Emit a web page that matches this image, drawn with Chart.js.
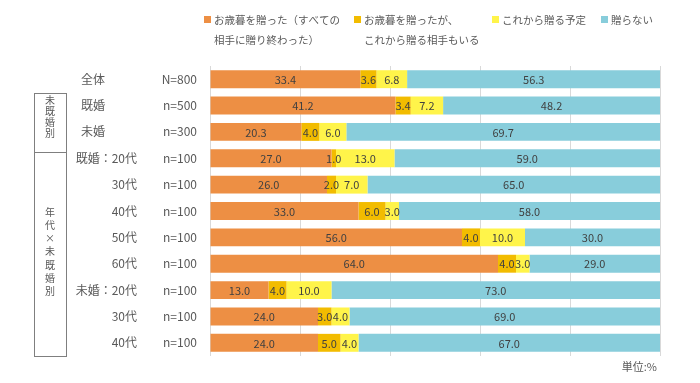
<!DOCTYPE html>
<html><head><meta charset="utf-8">
<script src="https://cdn.jsdelivr.net/npm/chart.js@4/dist/chart.umd.min.js"></script>
<style>html,body{margin:0;padding:0;background:#fff;}#wrap{width:700px;height:383px;position:relative;}</style>
</head><body><div id="wrap"><canvas id="c" width="700" height="383"></canvas></div>
<script>
const groupLabels = ['全体','既婚','未婚','既婚：20代','30代','40代','50代','60代','未婚：20代','30代','40代'];
const sampleLabels = ['N=800','n=500','n=300','n=100','n=100','n=100','n=100','n=100','n=100','n=100','n=100'];
const seriesNames = [['お歳暮を贈った（すべての','相手に贈り終わった）'],['お歳暮を贈ったが、','これから贈る相手もいる'],['これから贈る予定'],['贈らない']];
const sentAll = [33.4,41.2,20.3,27.0,26.0,33.0,56.0,64.0,13.0,24.0,24.0];
const sentSome = [3.6,3.4,4.0,1.0,2.0,6.0,4.0,4.0,4.0,3.0,5.0];
const planned = [6.8,7.2,6.0,13.0,7.0,3.0,10.0,3.0,10.0,4.0,4.0];
const notSend = [56.3,48.2,69.7,59.0,65.0,58.0,30.0,29.0,73.0,69.0,67.0];
const boxLabels = ['未既婚別','年代×未既婚別'];
const unitLabel = '単位:%';

const colors = ['#ED8F44','#F2BC00','#FFF44A','#88CDDB'];
const FONT = '"Noto Sans CJK JP","Noto Sans",sans-serif';
const TXT = '#595959';

const extras = {
  id:'extras',
  afterDatasetsDraw(chart){
    const ctx = chart.ctx;
    ctx.save();
    ctx.font = '11px ' + FONT;
    ctx.fillStyle = '#404040';
    ctx.textAlign = 'center';
    ctx.textBaseline = 'middle';
    chart.data.datasets.forEach((ds,di)=>{
      const meta = chart.getDatasetMeta(di);
      meta.data.forEach((el,i)=>{
        const v = ds.data[i];
        const x = (el.x + el.base)/2;
        ctx.fillText(v.toFixed(1), x, el.y+0.5);
      });
    });
    ctx.restore();
  },
  afterDraw(chart){
    const ctx = chart.ctx;
    const ys = chart.scales.y;
    ctx.save();
    ctx.font = '12px ' + FONT;
    ctx.fillStyle = TXT;
    ctx.textBaseline = 'middle';
    groupLabels.forEach((t,i)=>{
      const y = ys.getPixelForValue(i);
      if(i<3){ ctx.textAlign='center'; ctx.fillText(t,93,y); }
      else { ctx.textAlign='right'; ctx.fillText(t,137,y); }
      ctx.textAlign='right';
      ctx.fillText(sampleLabels[i],197,y);
    });
    // boxes
    ctx.strokeStyle = '#7f7f7f';
    ctx.lineWidth = 1;
    ctx.strokeRect(34.5, 93.5, 32, 59);
    ctx.strokeRect(34.5, 152.5, 32, 204);
    ctx.font = '10px ' + FONT;
    ctx.textAlign = 'center';
    boxLabels[0].split('').forEach((ch,k)=>ctx.fillText(ch,50,100+k*11));
    boxLabels[1].split('').forEach((ch,k)=>ctx.fillText(ch,50,212+k*13.2));
    // legend
    ctx.font = '10.5px ' + FONT;
    ctx.textAlign = 'left';
    const lx = [204,354,492,601];
    chart.data.datasets.forEach((ds,di)=>{
      ctx.fillStyle = colors[di];
      ctx.fillRect(lx[di],16,7,7);
      ctx.fillStyle = TXT;
      seriesNames[di].forEach((ln,k)=>ctx.fillText(ln,lx[di]+10,20+k*20));
    });
    ctx.font = '11px ' + FONT;
    ctx.textAlign='right';
    ctx.fillText(unitLabel,657,367);
    ctx.restore();
  }
};

new Chart(document.getElementById('c'),{
  type:'bar',
  data:{
    labels: groupLabels.map((g,i)=>g+' '+sampleLabels[i]),
    datasets:[
      {label:seriesNames[0].join(''),data:sentAll,backgroundColor:colors[0]},
      {label:seriesNames[1].join(''),data:sentSome,backgroundColor:colors[1]},
      {label:seriesNames[2].join(''),data:planned,backgroundColor:colors[2]},
      {label:seriesNames[3].join(''),data:notSend,backgroundColor:colors[3]}
    ]
  },
  options:{
    indexAxis:'y',
    responsive:false,
    animation:false,
    layout:{padding:{left:210,right:40,top:66,bottom:27}},
    datasets:{bar:{barPercentage:0.68,categoryPercentage:1.0,borderWidth:0}},
    plugins:{legend:{display:false},tooltip:{enabled:false}},
    scales:{
      x:{stacked:true,min:0,max:100,position:'bottom',
         ticks:{display:false,stepSize:20},
         grid:{drawTicks:false,color:'#d9d9d9',lineWidth:1},
         border:{display:false}},
      y:{stacked:true,display:false}
    }
  },
  plugins:[extras]
});
</script></body></html>
